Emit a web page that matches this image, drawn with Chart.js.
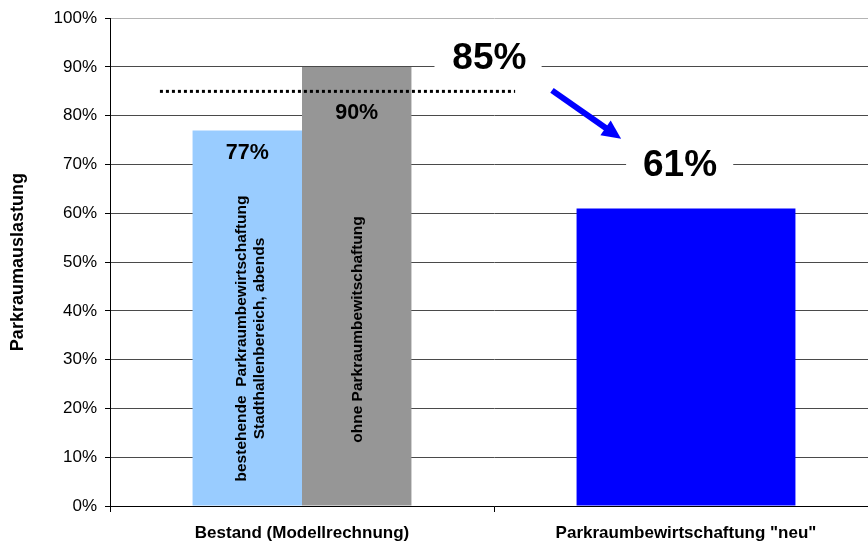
<!DOCTYPE html>
<html>
<head>
<meta charset="utf-8">
<script src="https://cdn.jsdelivr.net/npm/chart.js@4.4.0/dist/chart.umd.min.js"></script>
<style>
	html, body { margin: 0; padding: 0; background: #fff; overflow: hidden; }
	#wrap { width: 880px; height: 542px; position: relative; }
</style>
</head>
<body>
<div id="wrap"><canvas id="barChart"></canvas></div>
<script>
// chart values
let categories = ['Bestand (Modellrechnung)', 'Parkraumbewirtschaftung "neu"'];
let bestehendValues = [77, null];
let ohneValues = [90, null];
let neuValues = [null, 61];
let yTicks = [0, 10, 20, 30, 40, 50, 60, 70, 80, 90, 100];
let referenceLevel = 85; // dotted line
let seriesNotes = [
	['bestehende  Parkraumbewirtschaftung', 'Stadthallenbereich, abends'],
	['ohne Parkraumbewitschaftung'],
	[]
];

let font = 'Arial, "Liberation Sans", Helvetica, sans-serif';

let annotations = {
	id: 'annotations',
	afterDatasetsDraw(chart) {
		let ctx = chart.ctx;
		let xs = chart.scales.x;
		let ys = chart.scales.y;
		// category units -> pixels
		let step = xs.getPixelForValue(1) - xs.getPixelForValue(0);
		let px = v => xs.getPixelForValue(0) + v * step;
		let py = v => ys.getPixelForValue(v);

		ctx.save();

		// value labels and rotated notes inside the bars of the first group
		let labelDrop = [23, 46];
		let noteShift = [[-5.5, 12.5], [0.5]];
		let noteCenter = [167, 176];
		[0, 1].forEach(di => {
			let bar = chart.getDatasetMeta(di).data[0];
			let val = chart.data.datasets[di].data[0];
			ctx.fillStyle = '#000';
			ctx.font = 'bold 21.5px ' + font;
			ctx.textAlign = 'center';
			ctx.textBaseline = 'middle';
			ctx.fillText(val + '%', bar.x, bar.y + labelDrop[di]);

			ctx.save();
			ctx.translate(bar.x, bar.base - noteCenter[di]);
			ctx.rotate(-Math.PI / 2);
			ctx.font = 'bold 15.5px ' + font;
			seriesNotes[di].forEach((line, li) => {
				ctx.fillText(line, 0, noteShift[di][li]);
			});
			ctx.restore();
		});

		// dotted reference line
		ctx.strokeStyle = '#000';
		ctx.lineWidth = 3;
		ctx.setLineDash([3, 3]);
		ctx.beginPath();
		ctx.moveTo(px(-0.37), py(referenceLevel));
		ctx.lineTo(px(0.555), py(referenceLevel));
		ctx.stroke();
		ctx.setLineDash([]);

		// big labels on white boxes that break the gridlines
		ctx.font = 'bold 37px ' + font;
		ctx.textAlign = 'center';
		let ly90 = py(90);
		ctx.fillStyle = '#fff';
		ctx.fillRect(px(0.345), ly90 - 30, px(0.624) - px(0.345), 36);
		ctx.fillStyle = '#000';
		ctx.textBaseline = 'alphabetic';
		ctx.fillText(referenceLevel + '%', px(0.488), ly90 + 2);

		let neuBar = chart.getDatasetMeta(2).data[1];
		let ly70 = py(70);
		ctx.fillStyle = '#fff';
		ctx.fillRect(px(0.844), ly70 - 20, px(1.123) - px(0.844), 34);
		ctx.fillStyle = '#000';
		ctx.textBaseline = 'middle';
		ctx.fillText(neuValues[1] + '%', neuBar.x - 6, ly70 + 1);

		// arrow from the reference level down towards the new value
		let ax0 = px(0.651), ay0 = py(referenceLevel) - 1;
		let ax1 = px(0.831), ay1 = py(75.3);
		let ang = Math.atan2(ay1 - ay0, ax1 - ax0);
		let headLen = 19, headW = 9;
		ctx.strokeStyle = '#0000ff';
		ctx.fillStyle = '#0000ff';
		ctx.lineWidth = 6;
		ctx.beginPath();
		ctx.moveTo(ax0, ay0);
		ctx.lineTo(ax1 - headLen * Math.cos(ang) * 0.8, ay1 - headLen * Math.sin(ang) * 0.8);
		ctx.stroke();
		ctx.beginPath();
		ctx.moveTo(ax1, ay1);
		ctx.lineTo(ax1 - headLen * Math.cos(ang) + headW * Math.sin(ang), ay1 - headLen * Math.sin(ang) - headW * Math.cos(ang));
		ctx.lineTo(ax1 - headLen * Math.cos(ang) - headW * Math.sin(ang), ay1 - headLen * Math.sin(ang) + headW * Math.cos(ang));
		ctx.closePath();
		ctx.fill();

		ctx.restore();
	}
};

let data = {
	labels: categories,
	datasets: [
		{ label: 'bestehende Parkraumbewirtschaftung', data: bestehendValues, backgroundColor: '#99ccff' },
		{ label: 'ohne Parkraumbewitschaftung', data: ohneValues, backgroundColor: '#969696' },
		{ label: 'Parkraumbewirtschaftung "neu"', data: neuValues, backgroundColor: '#0000ff' }
	]
};

let options = {
	responsive: true,
	maintainAspectRatio: false,
	animation: false,
	devicePixelRatio: 1,
	skipNull: true,
	categoryPercentage: 0.57,
	barPercentage: 1,
	layout: { padding: { top: 18, right: 2, left: 0, bottom: 0 } },
	plugins: {
		legend: { display: false },
		tooltip: { enabled: false }
	},
	scales: {
		y: {
			min: 0,
			max: 100,
			afterBuildTicks: s => { s.ticks = yTicks.map(v => ({ value: v })); },
			afterFit: s => { s.width = 110; },
			ticks: {
				color: '#000',
				font: { family: font, size: 17 },
				padding: 8,
				callback: v => v + '%'
			},
			grid: {
				color: ctx => ctx.tick && ctx.tick.value === 100 ? '#b4b4b4' : '#4a4a4a',
				tickColor: '#000',
				tickLength: 5,
				lineWidth: 1
			},
			border: { color: '#000', width: 1 },
			title: {
				display: true,
				text: 'Parkraumauslastung',
				color: '#000',
				font: { family: font, size: 18, weight: 'bold' },
				padding: { top: 7, bottom: 0 }
			}
		},
		x: {
			afterFit: s => { s.height = 36; },
			ticks: {
				color: '#000',
				font: { family: font, size: 17, weight: 'bold' },
				padding: 11,
				maxRotation: 0
			},
			grid: {
				offset: true,
				drawOnChartArea: false,
				tickColor: '#000',
				tickLength: 6
			},
			border: { color: '#000', width: 1 }
		}
	}
};

new Chart('barChart', {
	type: 'bar',
	data: data,
	options: options,
	plugins: [annotations]
});
</script>
</body>
</html>
